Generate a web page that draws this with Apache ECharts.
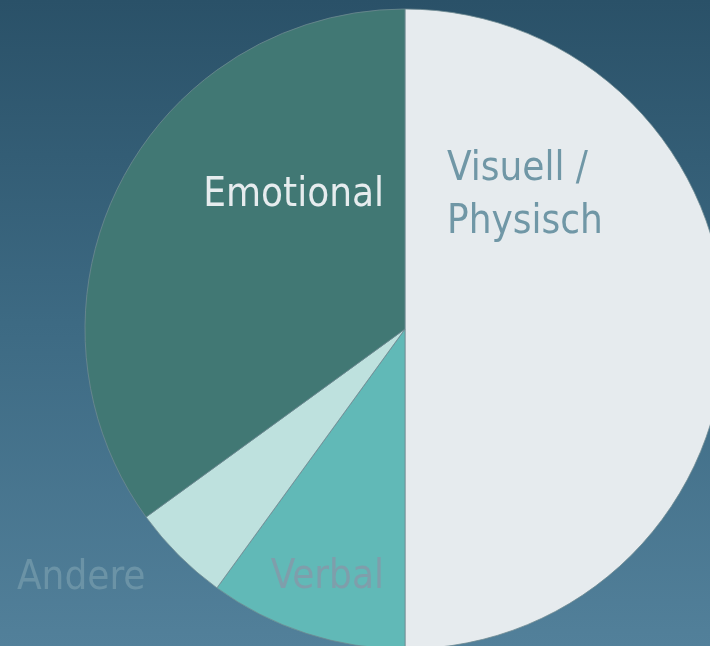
<!DOCTYPE html>
<html>
<head>
<meta charset="utf-8">
<script src="https://cdn.jsdelivr.net/npm/echarts@6/dist/echarts.min.js"></script>
<style>
html,body{margin:0;padding:0;}
#chart{width:710px;height:646px;}
</style>
</head>
<body>
<div id="chart"></div>
<script>
var categories = ['Visuell /\nPhysisch', 'Verbal', 'Andere', 'Emotional'];
var values = [50, 10, 5, 35];
var sliceColors = ['#e6ebee', '#61b9b7', '#bee1de', '#417874'];
var labelColors = ['#7097a6', '#7f9eab', '#6b93a6', '#e6ecee'];

var labelSpots = [
  {x: 447, y: 196, align: 'left', verticalAlign: 'middle', hideOverlap: false},
  {x: 384, y: 578, align: 'right', verticalAlign: 'middle', hideOverlap: false},
  {x: 17, y: 579, align: 'left', verticalAlign: 'middle', hideOverlap: false},
  {x: 384, y: 196, align: 'right', verticalAlign: 'middle', hideOverlap: false}
];

var chart = echarts.init(document.getElementById('chart'));
var data = categories.map(function (c, i) {
  return {
    name: c,
    value: values[i],
    itemStyle: {color: sliceColors[i]},
    label: {color: labelColors[i]}
  };
});
chart.setOption({
  animation: false,
  backgroundColor: new echarts.graphic.LinearGradient(0, 0, 0, 1, [
    {offset: 0, color: '#2a5168'},
    {offset: 0.5, color: '#3d6a83'},
    {offset: 1, color: '#52809a'}
  ]),
  series: [{
    type: 'pie',
    center: [405, 329],
    radius: 320,
    startAngle: 90,
    clockwise: true,
    silent: true,
    avoidLabelOverlap: false,
    itemStyle: {borderColor: '#6f8a92', borderWidth: 0.8},
    label: {
      show: true,
      position: 'outside',
      fontFamily: 'DejaVu Sans Condensed, sans-serif',
      fontSize: 40,
      lineHeight: 53,
      overflow: 'none',
      width: 400,
      formatter: '{b}'
    },
    labelLine: {show: false},
    labelLayout: function (p) { return labelSpots[p.dataIndex]; },
    data: data
  }]
});
</script>
</body>
</html>
